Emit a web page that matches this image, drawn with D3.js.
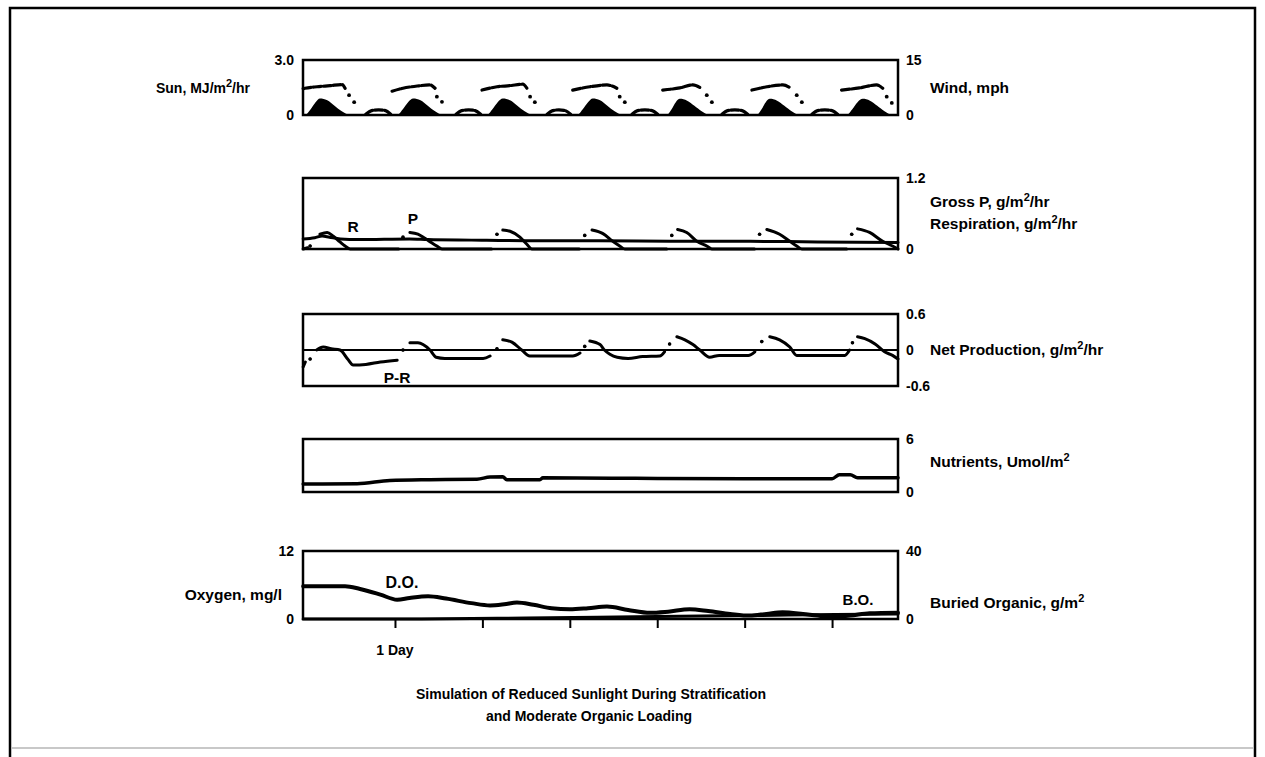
<!DOCTYPE html>
<html lang="en">
<head>
<meta charset="UTF-8">
<title>Simulation of Reduced Sunlight</title>
<style>
    body {
        margin: 0;
        padding: 0;
        background-color: #fff;
    }
    svg text {
        font-family: "Liberation Sans", Arial, sans-serif;
        font-weight: bold;
        fill: #000;
    }
</style>
</head>
<body>
<svg id="chart" width="1265" height="757"></svg>

<script src="https://d3js.org/d3.v7.min.js"></script>
<script>
    // time axis, hours from start of the run
    const hourDomain = [-1.25, 162.1];
    const dayTicks = [24, 48, 72, 96, 120, 144];

    // [hour, value]; null breaks the trace (plotter skipped points)
    const sunPts = [
        [-1.2, 0], [-0.7, 0], [0.8, 0.3], [2.2, 0.7], [3.4, 0.9], [5.4, 0.8], [7.4, 0.5], [9.4, 0.2], [11.7, 0],
        [24.6, 0], [26.1, 0.3], [27.6, 0.7], [29.0, 0.9], [31.0, 0.8], [33.0, 0.5], [35.0, 0.2], [37.2, 0],
        [49.2, 0], [50.7, 0.3], [52.2, 0.7], [53.6, 0.9], [55.6, 0.8], [57.6, 0.5], [59.6, 0.2], [61.9, 0],
        [74.0, 0], [75.5, 0.3], [77.0, 0.7], [78.3, 0.9], [80.3, 0.8], [82.3, 0.5], [84.3, 0.2], [86.6, 0],
        [98.6, 0], [99.9, 0.3], [101.1, 0.7], [102.2, 0.88], [104.2, 0.78], [106.2, 0.5], [108.2, 0.2], [110.4, 0],
        [123.3, 0], [124.6, 0.3], [125.8, 0.7], [126.9, 0.88], [128.9, 0.78], [130.9, 0.5], [132.9, 0.2], [135.1, 0],
        [148.0, 0], [149.5, 0.3], [151.0, 0.7], [152.4, 0.88], [154.4, 0.78], [156.4, 0.5], [158.4, 0.2], [160.6, 0],
        [162.1, 0]
    ];

    const windPts = [
        [-1.2, 7.2], [-0.7, 7.3], [2.6, 7.7], [6.2, 8.0], [9.5, 8.3], [10.3, 7.3], null, [11.4, 5.4], null, [12.8, 3.5], null,
        [16.0, 0.2], [17.6, 1.2], [19.5, 1.4], [21.4, 1.2], [22.8, 0.2], null,
        [23.2, 6.5], [26.2, 7.3], [30.1, 7.9], [33.6, 8.2], [35.0, 7.3], null, [35.5, 5.0], null, [36.9, 3.6], null,
        [40.8, 0.2], [42.3, 1.2], [44.2, 1.4], [46.0, 1.2], [47.5, 0.2], null,
        [47.9, 6.8], [52.0, 7.7], [55.6, 8.0], [59.1, 8.4], [60.2, 7.3], null, [61.1, 5.0], null, [62.4, 3.5], null,
        [65.8, 0.2], [67.3, 1.2], [69.0, 1.4], [70.7, 1.2], [72.2, 0.2], null,
        [72.8, 6.8], [77.5, 7.7], [82.2, 8.2], [84.9, 7.3], null, [85.7, 5.0], null, [87.1, 3.5], null,
        [89.1, 0.2], [90.6, 1.2], [92.6, 1.4], [94.6, 1.2], [96.1, 0.2], null,
        [97.5, 6.8], [102.2, 7.4], [105.8, 8.2], [107.7, 7.5], null, [109.6, 5.4], null, [111.0, 3.5], null,
        [113.8, 0.2], [115.3, 1.2], [117.3, 1.4], [119.3, 1.2], [120.8, 0.2], null,
        [122.0, 6.8], [126.1, 7.7], [130.5, 8.2], [132.4, 7.5], null, [134.3, 5.4], null, [135.7, 3.5], null,
        [138.5, 0.2], [140.0, 1.2], [142.0, 1.4], [144.0, 1.2], [145.5, 0.2], null,
        [146.6, 6.8], [151.6, 7.4], [156.2, 8.2], [157.9, 7.3], null, [159.0, 5.0], null, [160.4, 3.3]
    ];

    const grossP = [
        [-1.2, 0], [0, 0.02], null, [0.7, 0.05], null,
        [3.4, 0.25], [5.4, 0.28], [7.0, 0.22], [8.9, 0.12], [10.3, 0.05], [11.7, 0], [25, 0], null,
        [26.2, 0.2], null,
        [28.1, 0.28], [30.3, 0.25], [32.2, 0.18], [34.2, 0.1], [35.5, 0.05], [36.9, 0], [50.5, 0], null,
        [52.0, 0.25], null,
        [53.6, 0.32], [55.6, 0.3], [58.3, 0.2], [60.2, 0.08], [61.6, 0], [74.6, 0], null,
        [76.1, 0.23], null,
        [78.1, 0.32], [81.1, 0.26], [83.8, 0.13], [85.7, 0.05], [87.1, 0], [98.6, 0], null,
        [100.0, 0.23], null,
        [101.6, 0.33], [104.1, 0.28], [106.9, 0.13], [109.6, 0.05], [111.0, 0], [122.7, 0], null,
        [124.1, 0.25], null,
        [126.1, 0.33], [129.6, 0.25], [132.4, 0.13], [134.3, 0.05], [135.7, 0], [148, 0], null,
        [149.4, 0.25], null,
        [151.0, 0.34], [154.3, 0.28], [157.9, 0.13], [160.6, 0.05], [162.1, 0]
    ];

    const respR = [
        [-1.2, 0.17], [2, 0.19], [4, 0.22], [6, 0.2], [9, 0.17], [14, 0.16], [28, 0.17], [33, 0.16],
        [45, 0.15], [60, 0.14], [80, 0.14], [100, 0.13], [120, 0.13], [140, 0.12], [162.1, 0.11]
    ];

    const netPR = [
        [-1.2, -0.28], [-0.6, -0.2], null, [0.7, -0.15], null,
        [2.5, 0.0], [4.3, 0.05], [6.5, 0.02], [8.9, 0.0], [11, -0.15], [12.5, -0.25], [16, -0.24], [20, -0.2], [24.6, -0.17], null,
        [26.2, 0.0], null,
        [28.1, 0.12], [30.3, 0.12], [33.6, 0], [35.3, -0.12], [37.7, -0.14], [48.2, -0.14], [50.1, -0.1], null,
        [52.0, 0.02], null,
        [53.6, 0.17], [56.1, 0.13], [58.8, 0], [61, -0.1], [72.8, -0.1], [74.8, -0.05], null,
        [76.1, 0.06], null,
        [77.5, 0.15], [80.3, 0.09], [81.5, 0], [83, -0.07], [85, -0.12], [88, -0.14], [92, -0.11], [96.7, -0.1], [98, -0.03], null,
        [99.4, 0.1], null,
        [101.4, 0.22], [103.6, 0.17], [105.8, 0.09], [107.7, 0], [110.4, -0.12], [113, -0.09], [121, -0.09], [122.8, -0.03], null,
        [124.7, 0.14], null,
        [126.9, 0.22], [129.6, 0.17], [132.4, 0.05], [134.3, -0.09], [147.5, -0.09], [148.8, 0], null,
        [149.6, 0.12], null,
        [151, 0.22], [153, 0.19], [155.8, 0.1], [158.4, -0.03], [160.6, -0.09], [162.1, -0.15]
    ];

    const nutrients = [
        [-1.2, 0.9], [13.6, 0.94], [22.6, 1.3], [33.6, 1.4], [46.5, 1.45], [50.1, 1.7], [53.6, 1.72],
        [54.7, 1.4], [63.8, 1.4], [64.6, 1.6], [90, 1.55], [120, 1.5], [144, 1.5], [146, 1.95],
        [149, 1.95], [151, 1.6], [162.1, 1.6]
    ];

    const oxygenDO = [
        [-1.2, 5.8], [10.3, 5.8], [14.4, 5.3], [20, 4.3], [24.6, 3.4], [28, 3.7], [33.1, 4.0], [38, 3.6],
        [45, 2.8], [50.1, 2.4], [54, 2.6], [57.5, 2.9], [62, 2.5], [67, 1.9], [72, 1.7], [77, 1.9],
        [82.2, 2.2], [88, 1.6], [94, 1.1], [99, 1.3], [104.9, 1.7], [110, 1.4], [116, 0.9], [121.4, 0.6],
        [126, 0.9], [130.4, 1.2], [136, 0.9], [140, 0.6], [144.2, 0.4], [149, 0.6], [154.3, 1.0], [162.1, 1.1]
    ];

    const buriedBO = [
        [-1.2, 0], [30, 0], [60, 0.6], [90, 1.3], [120, 2.0], [145, 2.6], [162.1, 3.0]
    ];

    const svg = d3.select("#chart");
    const x = d3.scaleLinear().domain(hourDomain).range([303, 898]);

    // outer frame of the scanned page
    svg.append("line").attr("x1", 12).attr("x2", 1253).attr("y1", 748).attr("y2", 748)
        .attr("stroke", "#c8c8c8").attr("stroke-width", 2);
    svg.append("path")
        .attr("d", "M10,757 L10,8 L1255,8 L1255,757")
        .attr("fill", "none").attr("stroke", "#000").attr("stroke-width", 2.5);

    function addText(g, px, py, parts, anchor, size) {
        const t = g.append("text")
            .attr("x", px).attr("y", py)
            .attr("dy", "0.35em")
            .attr("text-anchor", anchor || "start")
            .style("font-size", (size || 15.5) + "px");
        let lift = 0;
        parts.forEach(p => {
            if (typeof p === "string") {
                t.append("tspan").attr("dy", lift ? lift + "px" : null).text(p);
                lift = 0;
            } else {
                t.append("tspan").attr("dy", "-6px").style("font-size", "11px").text(p.sup);
                lift = 6;
            }
        });
        return t;
    }

    function makePanel(top, bottom) {
        const g = svg.append("g");
        g.append("rect")
            .attr("x", x.range()[0]).attr("y", top)
            .attr("width", x.range()[1] - x.range()[0]).attr("height", bottom - top)
            .attr("fill", "none").attr("stroke", "#000").attr("stroke-width", 2.5);
        return g;
    }

    function sideAxis(g, scale, values, fmt, side) {
        const ax = (side === "left" ? d3.axisLeft(scale) : d3.axisRight(scale))
            .tickValues(values).tickSize(0).tickPadding(side === "left" ? 9 : 8).tickFormat(fmt);
        const a = g.append("g")
            .attr("transform", `translate(${side === "left" ? x.range()[0] : x.range()[1]},0)`)
            .call(ax);
        a.select(".domain").remove();
        a.selectAll("text").style("font-size", "14px").style("font-family", "Liberation Sans, Arial, sans-serif")
            .style("font-weight", "bold");
    }

    function drawTrace(g, pts, y, width, dash) {
        const line = d3.line()
            .defined(d => d !== null)
            .x(d => x(d[0]))
            .y(d => y(d[1]))
            .curve(d3.curveMonotoneX);
        g.append("path").datum(pts)
            .attr("d", line)
            .attr("fill", "none")
            .attr("stroke", "#000")
            .attr("stroke-width", width)
            .attr("stroke-linejoin", "round")
            .attr("stroke-linecap", "round")
            .attr("stroke-dasharray", dash || null);
        // single plotter points between gaps
        const lone = pts.filter((d, i) => d && !pts[i - 1] && !pts[i + 1]);
        g.selectAll(null).data(lone).enter().append("circle")
            .attr("cx", d => x(d[0])).attr("cy", d => y(d[1]))
            .attr("r", width * 0.6).attr("fill", "#000");
    }

    const fmtNum = d => d === 0 ? "0" : (Number.isInteger(d) ? String(d) : d.toFixed(1));

    // panel 1: sun and wind
    {
        const top = 60, bottom = 115;
        const g = makePanel(top, bottom);
        const ySun = d3.scaleLinear().domain([0, 3]).range([bottom, top]);
        const yWind = d3.scaleLinear().domain([0, 15]).range([bottom, top]);
        g.append("path").datum(sunPts)
            .attr("d", d3.area().x(d => x(d[0])).y0(ySun(0)).y1(d => ySun(d[1])).curve(d3.curveMonotoneX))
            .attr("fill", "#000");
        drawTrace(g, windPts, yWind, 3.2, "8,2");
        sideAxis(g, ySun, [0, 3], d => d === 0 ? "0" : d.toFixed(1), "left");
        sideAxis(g, yWind, [0, 15], fmtNum, "right");
        addText(g, 250, 88, ["Sun, MJ/m", {sup: "2"}, "/hr"], "end", 14);
        addText(g, 930, 88, ["Wind, mph"]);
    }

    // panel 2: gross production and respiration
    {
        const top = 178, bottom = 249;
        const g = makePanel(top, bottom);
        const y = d3.scaleLinear().domain([0, 1.2]).range([bottom, top]);
        drawTrace(g, respR, y, 3);
        drawTrace(g, grossP, y, 3);
        sideAxis(g, y, [0, 1.2], fmtNum, "right");
        addText(g, 930, 202, ["Gross P, g/m", {sup: "2"}, "/hr"]);
        addText(g, 930, 224, ["Respiration, g/m", {sup: "2"}, "/hr"]);
        addText(g, 353, 227, ["R"], "middle");
        addText(g, 413, 219, ["P"], "middle");
    }

    // panel 3: net production
    {
        const top = 314, bottom = 386;
        const g = makePanel(top, bottom);
        const y = d3.scaleLinear().domain([-0.6, 0.6]).range([bottom, top]);
        g.append("line")
            .attr("x1", x.range()[0]).attr("x2", x.range()[1])
            .attr("y1", y(0)).attr("y2", y(0))
            .attr("stroke", "#000").attr("stroke-width", 2);
        drawTrace(g, netPR, y, 3);
        sideAxis(g, y, [-0.6, 0, 0.6], fmtNum, "right");
        addText(g, 930, y(0), ["Net Production, g/m", {sup: "2"}, "/hr"]);
        addText(g, 397, 378, ["P-R"], "middle");
    }

    // panel 4: nutrients
    {
        const top = 439, bottom = 492;
        const g = makePanel(top, bottom);
        const y = d3.scaleLinear().domain([0, 6]).range([bottom, top]);
        drawTrace(g, nutrients, y, 3.5);
        sideAxis(g, y, [0, 6], fmtNum, "right");
        addText(g, 930, 462, ["Nutrients, Umol/m", {sup: "2"}]);
    }

    // panel 5: oxygen and buried organic
    {
        const top = 551, bottom = 619;
        const g = makePanel(top, bottom);
        const yDO = d3.scaleLinear().domain([0, 12]).range([bottom, top]);
        const yBO = d3.scaleLinear().domain([0, 40]).range([bottom, top]);
        drawTrace(g, buriedBO, yBO, 3);
        drawTrace(g, oxygenDO, yDO, 4);
        sideAxis(g, yDO, [0, 12], fmtNum, "left");
        sideAxis(g, yBO, [0, 40], fmtNum, "right");

        const days = g.append("g")
            .attr("transform", `translate(0,${bottom})`)
            .call(d3.axisBottom(x).tickValues(dayTicks).tickSize(9).tickFormat(""));
        days.select(".domain").remove();
        days.selectAll("line").attr("stroke", "#000").attr("stroke-width", 2);

        addText(g, 282, 595, ["Oxygen, mg/l"], "end");
        addText(g, 930, 603, ["Buried Organic, g/m", {sup: "2"}]);
        addText(g, 402, 582, ["D.O."], "middle", 16);
        addText(g, 858, 600, ["B.O."], "middle", 15);
        addText(g, x(24), 650, ["1 Day"], "middle", 14);
    }

    // caption
    addText(svg, 591, 694, ["Simulation of Reduced Sunlight During Stratification"], "middle", 14);
    addText(svg, 589, 716, ["and Moderate Organic Loading"], "middle", 14);
</script>
</body>
</html>
